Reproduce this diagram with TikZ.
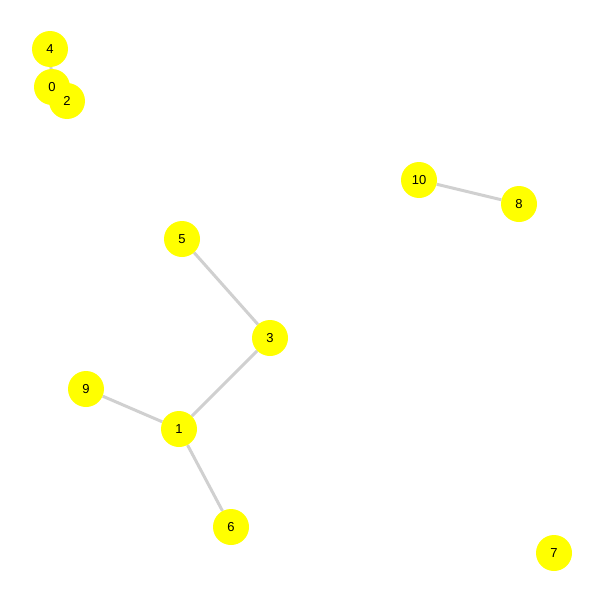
\documentclass[tikz,border=0pt]{standalone}
\usepackage{fontspec}
\usetikzlibrary{backgrounds}
\setmainfont{Liberation Sans}
\definecolor{nodeyellow}{RGB}{255,255,0}
\definecolor{edgegray}{RGB}{208,208,208}
\begin{document}
\begin{tikzpicture}[x=1pt,y=-1pt,
  vert/.style={circle,fill=nodeyellow,minimum size=36pt,inner sep=0pt},
  vlabel/.style={inner sep=0pt,font=\fontsize{13}{15}\selectfont},
  link/.style={draw=edgegray,line width=3pt}]
\useasboundingbox (0,0) rectangle (605,605);
\node[vert] (n4) at (50,49) {};
\node[vert] (n0) at (52,87) {};
\node[vert] (n2) at (67,101) {};
\node[vert] (n10) at (419,180) {};
\node[vert] (n8) at (519,204) {};
\node[vert] (n5) at (182,239) {};
\node[vert] (n3) at (270,338) {};
\node[vert] (n9) at (86,389) {};
\node[vert] (n1) at (179,429) {};
\node[vert] (n6) at (231,527) {};
\node[vert] (n7) at (554,553) {};
\foreach \k in {4,0,2,10,8,5,3,9,1,6,7}
  \node[vlabel] (t\k) at (n\k.center) {\k};
\begin{scope}[on background layer]
\draw[link] (n4.center) -- (n0.center);
\draw[link] (n10) -- (n8);
\draw[link] (n5) -- (n3);
\draw[link] (n3) -- (n1);
\draw[link] (n9) -- (n1);
\draw[link] (n1) -- (n6);
\end{scope}
\end{tikzpicture}
\end{document}
